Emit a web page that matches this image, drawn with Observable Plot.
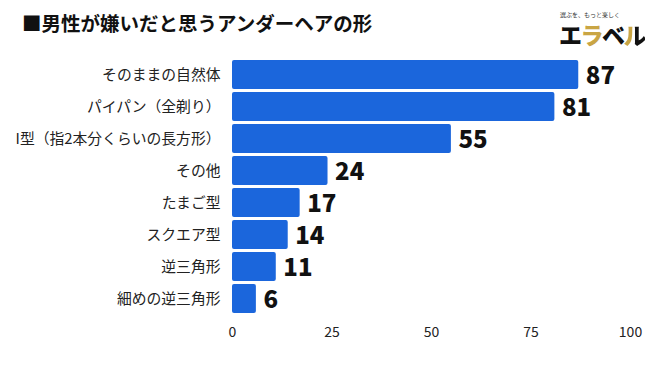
<!DOCTYPE html>
<html><head><meta charset="utf-8">
<script src="https://cdn.jsdelivr.net/npm/d3@7"></script>
<script src="https://cdn.jsdelivr.net/npm/@observablehq/plot@0.6"></script>
<style>
body{margin:0;background:#fff;font-family:"Noto Sans CJK JP","Noto Sans",sans-serif;}
#wrap{position:relative;width:650px;height:366px;overflow:hidden;}
#chart{position:absolute;left:0;top:0;}
#title{position:absolute;left:22px;top:10px;font-size:19.5px;line-height:26px;font-weight:bold;color:#111;white-space:nowrap;}
#logo{position:absolute;left:559px;top:11px;white-space:nowrap;}
#tag{font-size:6px;color:#333;line-height:8px;margin-left:1px;}
#brand{font-size:23px;font-weight:900;line-height:30px;letter-spacing:-1.5px;white-space:nowrap;}
.k{color:#111}.g{color:#c9a544}
.m{background:linear-gradient(90deg,#c9a544 45%,#111 45%);-webkit-background-clip:text;background-clip:text;color:transparent;}
</style></head>
<body><div id="wrap">
<div id="chart"></div>
<div id="title">■男性が嫌いだと思うアンダーヘアの形</div>
<div id="logo"><div id="tag">選ぶを、もっと楽しく</div><div id="brand"><span class="k">エ</span><span class="g">ラ</span><span class="k">ベ</span><span class="m">ル</span></div></div>
</div>
<script>
const categories = ["そのままの自然体","パイパン（全剃り）","I型（指2本分くらいの長方形）","その他","たまご型","スクエア型","逆三角形","細めの逆三角形"];
const values = [87,81,55,24,17,14,11,6];
const xTicks = [0,25,50,75,100];
const data = categories.map((c,i)=>({c, v: values[i]}));
const plot = Plot.plot({
  width:650, height:366,
  marginLeft:232, marginRight:20, marginTop:57, marginBottom:49,
  style:{fontFamily:'"Noto Sans CJK JP","Noto Sans",sans-serif', background:"transparent"},
  x:{domain:[0,100], label:null},
  y:{domain:categories, label:null, padding:0.09},
  marks:[
    Plot.barX(data,{y:"c", x:"v", fill:"#1b66dc", rx:2}),
    Plot.text(data,{y:"c", x:"v", text:d=>String(d.v), textAnchor:"start", dx:7, dy:1, fontSize:24, fontWeight:900, fill:"#111"}),
    Plot.axisX({ticks:xTicks, tickSize:0, tickPadding:10, fontSize:14, color:"#222", label:null}),
    Plot.axisY({tickSize:0, tickPadding:12, fontSize:14.8, color:"#222", label:null})
  ]
});
document.getElementById("chart").appendChild(plot);
</script></body></html>
